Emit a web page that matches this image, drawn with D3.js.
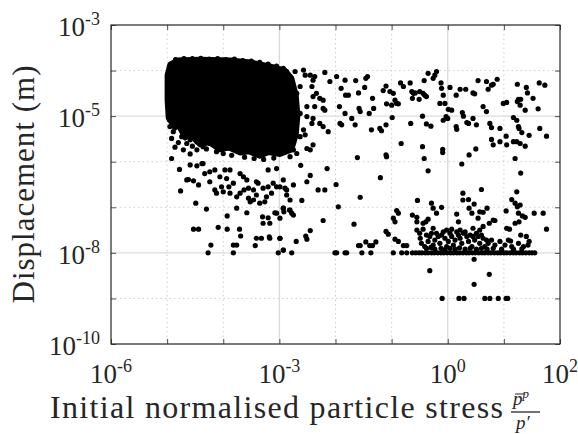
<!DOCTYPE html>
<html><head><meta charset="utf-8">
<script src="https://cdn.jsdelivr.net/npm/d3@7"></script>
<style>
body{margin:0;background:#fff}
svg{display:block}
svg text{font-family:"Liberation Serif","Times New Roman",Times,serif}
</style>
</head><body><svg id="chart" width="578" height="434"></svg>
<script>
// Decades (log10 exponents) of the axes
const xDomainExp = [-6, 2];
const yDomainExp = [-10, -3];
const xLabelledExp = [-6, -3, 0, 2];
const xMinorExp = [-5, -4, -2, -1, 1];
const yLabelledExp = [-3, -5, -8, -10];
const yMinorExp = [-4, -6, -7, -9];

// Outline of the saturated core where markers fully overlap [log10 stress, log10 displacement]
const coreOutline = [[-5.00,-4.10],[-4.95,-3.86],[-4.81,-3.77],[-4.41,-3.75],[-3.88,-3.77],[-3.52,-3.81],[-3.17,-3.90],[-2.90,-3.99],[-2.78,-4.16],[-2.70,-4.54],[-2.67,-4.98],[-2.70,-5.41],[-2.78,-5.74],[-2.99,-5.84],[-3.20,-5.80],[-3.35,-5.88],[-3.55,-5.78],[-3.70,-5.81],[-3.90,-5.70],[-4.06,-5.74],[-4.25,-5.58],[-4.41,-5.63],[-4.60,-5.40],[-4.68,-5.48],[-4.80,-5.20],[-4.86,-5.26],[-4.98,-5.04],[-5.00,-4.65]];

// Particles around the rim of the core
const rimPoints = [[-4.85,-3.76],[-4.70,-3.74],[-4.55,-3.74],[-4.40,-3.73],[-4.25,-3.75],[-4.10,-3.74],[-3.95,-3.76],[-3.80,-3.75],[-3.65,-3.78],[-3.50,-3.79],[-3.35,-3.82],[-3.20,-3.86],[-3.05,-3.90],
[-2.93,-3.95],[-2.87,-4.02],[-2.72,-4.02],[-2.57,-3.99],[-2.54,-4.10],[-2.45,-4.10],[-2.40,-4.21],[-2.37,-4.13],[-2.42,-4.35],[-2.34,-4.50],[-2.40,-4.57],[-2.28,-4.61],[-2.22,-4.65],[-2.22,-4.83],[-2.19,-4.87],[-2.37,-4.79],[-2.51,-4.79],[-2.63,-4.94],[-2.51,-5.01],[-2.40,-5.05],[-2.28,-5.16],[-2.22,-5.23],[-2.13,-5.34],[-2.42,-5.16],[-2.57,-5.30],[-2.63,-5.45],[-2.54,-5.41],[-2.40,-5.63],[-2.51,-5.71],[-2.45,-5.74],[-2.69,-5.82],[-2.75,-5.74],[-2.81,-5.89],[-2.90,-5.71],[-2.93,-5.60],[-2.75,-5.52],[-2.69,-4.50],[-2.75,-4.87],[-2.63,-4.35],[-2.81,-4.35],
[-4.95,-5.23],[-4.89,-5.34],[-4.92,-5.49],[-4.80,-5.58],[-4.86,-5.68],[-4.71,-5.74],[-4.65,-5.60],[-4.59,-5.83],[-4.47,-5.74],[-4.36,-5.67],[-4.24,-5.60],[-4.12,-5.78],[-4.74,-5.45],[-4.59,-5.52],[-4.47,-5.56],[-4.96,-5.08],
[-4.00,-5.82],[-3.85,-5.86],[-3.62,-5.90],[-3.45,-5.93],[-3.28,-5.95],[-3.10,-5.92],[-4.30,-5.72],[-4.55,-5.66]];

// Scattered particles with large displacement
const upperPoints = [[-2.19,-4.04],[-2.10,-4.24],[-1.98,-4.13],[-1.90,-4.39],[-1.93,-4.79],[-1.83,-4.21],[-1.82,-4.54],[-1.77,-4.54],[-1.83,-4.94],[-1.92,-5.16],[-1.89,-5.19],[-1.71,-5.05],[-1.65,-5.19],[-1.64,-4.22],[-1.59,-4.49],[-1.58,-4.83],[-1.56,-4.90],[-1.46,-4.17],[-1.43,-4.13],[-1.48,-4.37],[-1.40,-4.94],[-1.34,-4.61],[-1.32,-4.83],[-1.36,-5.30],[-1.21,-5.27],[-1.18,-5.32],[-1.15,-4.44],[-1.10,-4.34],[-1.09,-4.73],[-1.03,-4.46],[-1.00,-4.76],[-0.94,-4.65],[-0.91,-4.72],[-0.88,-4.73],[-0.97,-4.50],[-0.99,-5.03],[-1.10,-5.19],[-0.84,-4.27],[-0.79,-4.35],[-0.67,-4.27],[-0.64,-4.46],[-0.61,-4.50],[-0.58,-4.49],[-0.63,-4.61],[-0.51,-4.63],[-0.50,-4.46],[-0.44,-4.50],[-0.41,-4.54],[-0.38,-4.57],[-0.42,-4.22],[-0.35,-4.06],[-0.26,-4.17],[-0.23,-4.10],[-0.20,-4.02],[-0.12,-4.27],[-0.11,-4.39],[-0.14,-4.72],[-0.08,-4.54],[-0.05,-4.72],[-0.03,-5.01],[0.00,-5.05],[-0.08,-5.09],[0.01,-4.85],[0.07,-4.87],[0.04,-4.37],[0.15,-4.54],[0.22,-4.41],[0.32,-4.41],[0.45,-4.49],[0.48,-4.51],[0.54,-4.22],[0.69,-4.24],[0.72,-4.41],[0.78,-4.32],[0.81,-4.30],[0.88,-4.19],[0.63,-4.79],[0.69,-4.90],[0.26,-4.92],[0.28,-5.00],[0.45,-5.05],[0.51,-5.19],[0.75,-5.16],[0.78,-5.25],[0.15,-5.23],[0.16,-5.29],[0.34,-5.14],[0.37,-5.16],[-0.45,-5.00],[-0.38,-5.17],[-0.30,-5.22],[-0.66,-5.16],[-0.83,-5.60],[-0.45,-5.67],[-0.09,-5.73],[-0.09,-5.80],[-0.42,-5.93],[-1.10,-5.85],[-1.09,-5.89],[-1.61,-5.91],[0.93,-5.27],[1.04,-5.44],[0.78,-5.51],[0.81,-5.63],[0.93,-5.56],[1.05,-5.63],[1.17,-5.56],[1.23,-5.56],[1.29,-5.60],[1.38,-5.66],[1.45,-5.42],[1.32,-5.36],[1.26,-5.23],[1.27,-5.27],[1.17,-5.03],[1.23,-5.09],[1.26,-4.63],[1.29,-4.76],[1.24,-4.68],[1.38,-4.87],[1.30,-4.63],[1.40,-4.37],[1.42,-4.49],[1.52,-4.61],[1.24,-4.30],[1.63,-4.27],[1.73,-4.32],[1.61,-4.84],[1.64,-5.27],[1.76,-5.44],[0.38,-5.85],[0.50,-5.72],[1.20,-5.93],[0.99,-4.72],[1.05,-4.70],
[-2.62,-6.08],[-2.45,-6.30],[-2.15,-6.15],[-0.35,-6.20],[0.25,-6.05],[1.30,-6.25],[-1.20,-6.35]];

// Particles between the core and the 1e-8 floor
const middlePoints = [[-2.99,-6.55],[-2.90,-6.58],[-2.87,-6.73],[-2.75,-6.51],[-2.93,-7.02],[-2.92,-7.10],[-2.81,-7.06],[-2.78,-7.13],[-2.75,-7.17],[-2.60,-6.85],[-2.51,-6.44],[-2.31,-6.62],[-2.19,-6.62],[-1.99,-6.50],[-2.22,-7.29],[-1.95,-6.99],[-1.56,-6.78],[-1.67,-7.37],[-2.70,-7.75],[-2.53,-7.63],[-2.51,-7.70],[-2.45,-7.51],[-2.93,-7.94],[-2.99,-7.68],
[-1.59,-7.84],[-1.56,-7.84],[-1.46,-7.76],[-1.39,-7.84],[-1.34,-7.84],[-1.28,-7.76],[-1.10,-7.53],[-1.06,-7.59],[-0.94,-7.70],[-0.88,-7.75],[-0.79,-7.84],[-0.73,-7.84],[-0.97,-7.24],[-0.94,-7.32],[-0.91,-7.07],[-0.88,-7.13],[-0.63,-7.17],[-0.55,-7.22],[-0.55,-7.32],[-0.54,-6.85],[-0.44,-7.35],[-0.39,-7.32],[-0.35,-7.26],[-0.29,-6.91],[-0.26,-7.02],[-0.20,-7.13],[-0.11,-7.00],[-0.55,-7.50],[-0.50,-7.57],[-0.44,-7.48],[-0.38,-7.61],
[0.16,-7.15],[0.19,-7.32],[0.27,-6.69],[0.27,-6.84],[0.37,-6.83],[0.38,-7.02],[0.43,-7.13],[0.47,-6.93],[0.54,-7.24],[0.57,-7.10],[0.60,-6.61],[0.63,-7.11],[0.70,-7.02],[0.74,-7.35],[0.81,-7.28],[0.84,-7.29],[1.04,-7.08],[1.14,-6.83],[1.20,-6.91],[1.23,-6.66],[1.24,-6.99],[1.26,-7.13],[1.29,-6.95],[1.33,-7.19],[1.38,-7.22],[1.20,-7.35],[1.27,-7.32],[1.10,-7.48],[1.12,-7.74],[1.30,-7.61],[1.40,-7.64],[1.54,-7.13],[1.70,-7.13],[1.76,-7.48],[1.45,-7.75],
[-4.92,-5.93],[-4.78,-6.17],[-4.65,-6.40],[-4.62,-6.39],[-4.76,-6.64],[-4.53,-6.42],[-4.44,-6.51],[-4.49,-6.91],[-4.30,-7.04],[-4.53,-7.48],[-4.44,-7.48],[-4.09,-7.44],[-3.93,-7.48],[-3.93,-7.19],[-3.71,-7.48],[-3.69,-7.63],[-4.22,-7.83],[-3.82,-7.83],[-3.76,-7.83],[-3.43,-7.84],[-3.41,-7.68],[-3.32,-7.68],[-3.29,-7.35],[-3.30,-7.21],[-3.20,-7.23],[-3.17,-7.35],[-3.18,-7.65],[-3.17,-7.68],[-2.99,-7.68],[-2.93,-7.94],[-3.08,-7.12],[-3.05,-7.13],[-2.99,-7.24],[-2.93,-7.02],[-2.82,-7.06],[-3.94,-6.37],[-3.88,-6.69],[-3.76,-7.02],[-3.58,-7.12],[-3.55,-6.80],[-3.52,-6.88],[-3.46,-6.84],[-3.41,-6.73],[-3.35,-6.91],[-3.23,-6.77],[-3.26,-6.88],[-3.11,-6.47],[-3.05,-6.55],[-3.14,-6.69],[-3.38,-6.47],[-4.15,-6.62],[-4.12,-6.69],[-4.24,-6.44],[-4.33,-6.26],[-4.36,-6.04],[-4.24,-6.22],[-4.15,-6.18],[-4.06,-6.33],[-3.82,-6.47],[-3.70,-6.26],[-3.64,-6.33],[-3.58,-6.40],[-3.55,-6.58],[-3.46,-6.62],[-3.41,-6.44],[-3.29,-6.58],[-3.20,-6.55],[-3.20,-6.18],[-3.05,-6.15],[-2.93,-6.40],[-2.87,-6.62],[-2.81,-6.84],[-3.76,-6.77],[-3.70,-6.69],[-3.63,-6.62],[-4.00,-6.66],[-3.90,-6.55],[-4.03,-6.55],[-3.88,-6.18],[-3.97,-6.18],[-4.38,-6.04],[-4.59,-6.07],[-4.47,-6.09]];

// Cluster of particles just above the 1e-8 floor
const floorCluster = [[-0.49,-7.68],[-0.47,-7.79],[-0.41,-7.86],[-0.35,-7.75],[-0.32,-7.64],[-0.29,-7.57],[-0.26,-7.83],[-0.23,-7.72],[-0.20,-7.57],[-0.17,-7.64],[-0.14,-7.79],[-0.11,-7.61],[-0.08,-7.54],[-0.05,-7.68],[-0.02,-7.86],[0.01,-7.75],[0.04,-7.57],[0.07,-7.64],[0.10,-7.83],[0.13,-7.72],[0.16,-7.54],[0.19,-7.61],[0.22,-7.68],[0.25,-7.79],[0.28,-7.57],[0.31,-7.54],[0.34,-7.64],[0.37,-7.75],[0.40,-7.61],[0.43,-7.86],[0.45,-7.64],[0.48,-7.72],[0.51,-7.57],[0.54,-7.64],[0.57,-7.79],[0.60,-7.61],[0.63,-7.68],[0.66,-7.86],[0.69,-7.72],[0.72,-7.79],[0.78,-7.72],[0.84,-7.83],[0.93,-7.75],[1.02,-7.83],[1.08,-7.72],[1.14,-7.86],[1.26,-7.79],[1.35,-7.86],[1.43,-7.83],
[-0.38,-7.90],[-0.30,-7.88],[-0.23,-7.92],[-0.12,-7.90],[-0.05,-7.93],[0.04,-7.90],[0.13,-7.92],[0.21,-7.89],[0.31,-7.92],[0.40,-7.90],[0.51,-7.92],[0.60,-7.90],[0.70,-7.92],[0.81,-7.90],[0.96,-7.92],[1.17,-7.92],[1.32,-7.91],
[-0.02,-7.50],[0.22,-7.50],[0.45,-7.46],[0.63,-7.42],[0.57,-7.50],[0.07,-7.48],[-0.26,-7.46],[1.05,-7.46],
[0.47,-8.14],[-0.32,-8.39],[0.47,-8.69],[0.74,-8.47]];

// Particles sitting on the 1e-8 and 1e-9 displacement floors (log10 stress)
const floor8Stress = [-4.27,-3.82,-3.02,-2.78,-2.01,-1.98,-1.83,-1.80,-1.53,-1.37,-0.97,-0.82,-0.73,-0.63,-0.57,-0.51,-0.46,-0.40,-0.35,-0.29,-0.24,-0.18,-0.12,-0.07,-0.01,0.05,0.10,0.16,0.21,0.27,0.33,0.38,0.44,0.49,0.55,0.61,0.66,0.72,0.77,0.83,0.89,0.94,1.00,1.05,1.11,1.17,1.22,1.28,1.33,1.39,1.45,1.50,1.55];
const floor9Stress = [-0.10,0.20,0.29,0.66,0.75,0.90,1.04,1.07];

const plotL = 111, plotR = 560, plotT = 25, plotB = 344;
const ink = "#262626";

const svg = d3.select("#chart");
const x = d3.scaleLog().domain(xDomainExp.map(e => 10 ** e)).range([plotL, plotR]);
const y = d3.scaleLog().domain(yDomainExp.map(e => 10 ** e)).range([plotB, plotT]);

const xAll = d3.range(xDomainExp[0], xDomainExp[1] + 1).map(e => 10 ** e);
const yAll = d3.range(yDomainExp[0], yDomainExp[1] + 1).map(e => 10 ** e);

// Grid: solid at labelled decades, dotted at the others
const grid = svg.append("g");
grid.selectAll("line.gxm").data(xMinorExp.map(e => 10 ** e)).join("line")
  .attr("x1", d => x(d)).attr("x2", d => x(d)).attr("y1", plotT).attr("y2", plotB)
  .attr("stroke", "#cfcfcf").attr("stroke-width", 1).attr("stroke-dasharray", "1.5,3");
grid.selectAll("line.gym").data(yMinorExp.map(e => 10 ** e)).join("line")
  .attr("y1", d => y(d)).attr("y2", d => y(d)).attr("x1", plotL).attr("x2", plotR)
  .attr("stroke", "#cfcfcf").attr("stroke-width", 1).attr("stroke-dasharray", "1.5,3");
grid.selectAll("line.gxM").data(xLabelledExp.map(e => 10 ** e)).join("line")
  .attr("x1", d => x(d)).attr("x2", d => x(d)).attr("y1", plotT).attr("y2", plotB)
  .attr("stroke", "#dcdcdc").attr("stroke-width", 1.4);
grid.selectAll("line.gyM").data(yLabelledExp.map(e => 10 ** e)).join("line")
  .attr("y1", d => y(d)).attr("y2", d => y(d)).attr("x1", plotL).attr("x2", plotR)
  .attr("stroke", "#dcdcdc").attr("stroke-width", 1.4);

// Data
const toXY = p => [x(10 ** p[0]), y(10 ** p[1])];
const marks = svg.append("g").attr("fill", "#000");
marks.append("path")
  .attr("d", d3.line()(coreOutline.map(toXY)) + "Z")
  .attr("stroke", "#000").attr("stroke-width", 5).attr("stroke-linejoin", "round");

const allPoints = [].concat(
  rimPoints, upperPoints, middlePoints, floorCluster,
  floor8Stress.map(s => [s, -8]), floor9Stress.map(s => [s, -9])
);
marks.selectAll("circle").data(allPoints).join("circle")
  .attr("cx", d => x(10 ** d[0])).attr("cy", d => y(10 ** d[1])).attr("r", 2.6);

// Axes with inward ticks on all four sides
const tick = 5;
const axB = svg.append("g").attr("transform", `translate(0,${plotB})`)
  .call(d3.axisBottom(x).tickValues(xAll).tickSizeInner(-tick).tickSizeOuter(0).tickFormat(""));
const axT = svg.append("g").attr("transform", `translate(0,${plotT})`)
  .call(d3.axisTop(x).tickValues(xAll).tickSizeInner(-tick).tickSizeOuter(0).tickFormat(""));
const axL = svg.append("g").attr("transform", `translate(${plotL},0)`)
  .call(d3.axisLeft(y).tickValues(yAll).tickSizeInner(-tick).tickSizeOuter(0).tickFormat(""));
const axR = svg.append("g").attr("transform", `translate(${plotR},0)`)
  .call(d3.axisRight(y).tickValues(yAll).tickSizeInner(-tick).tickSizeOuter(0).tickFormat(""));
[axB, axT, axL, axR].forEach(g => {
  g.select(".domain").remove();
  g.selectAll(".tick line").attr("stroke", ink).attr("stroke-width", 0.8);
});
svg.append("rect").attr("x", plotL).attr("y", plotT)
  .attr("width", plotR - plotL).attr("height", plotB - plotT)
  .attr("fill", "none").attr("stroke", ink).attr("stroke-width", 1.1);

// Power-of-ten tick labels
function powerLabel(sel, exp) {
  sel.append("tspan").text("10");
  sel.append("tspan").attr("dy", -11).attr("font-size", 18).text(exp);
}
svg.append("g").selectAll("text").data(xLabelledExp).join("text")
  .attr("x", d => x(10 ** d)).attr("y", 383)
  .attr("text-anchor", "middle").attr("font-size", 27).attr("fill", ink)
  .each(function (d) { powerLabel(d3.select(this), String(d)); });
svg.append("g").selectAll("text").data(yLabelledExp).join("text")
  .attr("x", plotL - 11).attr("y", d => y(10 ** d) + 11)
  .attr("text-anchor", "end").attr("font-size", 27).attr("fill", ink)
  .each(function (d) { powerLabel(d3.select(this), String(d)); });

// Axis titles
svg.append("text")
  .attr("transform", `translate(34,${(plotT + plotB) / 2}) rotate(-90)`)
  .attr("text-anchor", "middle").attr("font-size", 31).attr("fill", ink)
  .attr("textLength", 238).attr("lengthAdjust", "spacing")
  .text("Displacement (m)");
svg.append("text")
  .attr("x", 50).attr("y", 418)
  .attr("font-size", 32).attr("fill", ink)
  .attr("textLength", 453).attr("lengthAdjust", "spacing")
  .text("Initial normalised particle stress");

// Fraction p̄^p / p′
const frac = svg.append("g").attr("font-style", "italic").attr("fill", ink);
const num = frac.append("text").attr("x", 513).attr("y", 405).attr("font-size", 19);
num.append("tspan").text("p");
num.append("tspan").attr("dy", -7).attr("font-size", 13).text("p");
frac.append("line").attr("x1", 515).attr("x2", 525).attr("y1", 394).attr("y2", 394)
  .attr("stroke", ink).attr("stroke-width", 1);
frac.append("line").attr("x1", 511).attr("x2", 540).attr("y1", 412).attr("y2", 412)
  .attr("stroke", ink).attr("stroke-width", 1.3);
frac.append("text").attr("x", 516).attr("y", 429).attr("font-size", 19).text("p\u2032");
</script></body></html>
